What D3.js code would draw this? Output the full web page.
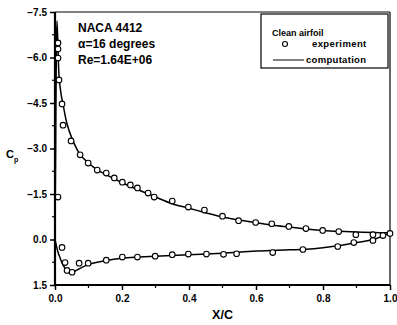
<!DOCTYPE html>
<html>
<head>
<meta charset="utf-8">
<script src="https://cdn.jsdelivr.net/npm/d3@7"></script>
<style>
    body { margin: 0; background: #fff; }
    svg text { font-family: "Liberation Sans", Arial, sans-serif; font-weight: bold; fill: #000; }
</style>
</head>
<body>
<div id="chart"></div>
<script>
(function() {
    'use strict';

    // experiment, upper surface
    var expUpperX = [0.009, 0.009, 0.009, 0.012, 0.021, 0.024, 0.048, 0.075, 0.099, 0.126, 0.153, 0.177, 0.201, 0.225, 0.246, 0.278, 0.296, 0.350, 0.398, 0.446, 0.500, 0.548, 0.599, 0.647, 0.698, 0.749, 0.799, 0.847, 0.898, 0.949, 0.979, 1.0];
    var expUpperCp = [-6.48, -6.28, -5.98, -5.26, -4.47, -3.77, -3.25, -2.79, -2.52, -2.29, -2.19, -2.03, -1.89, -1.80, -1.70, -1.53, -1.40, -1.27, -1.07, -0.97, -0.77, -0.62, -0.56, -0.52, -0.43, -0.36, -0.30, -0.26, -0.16, -0.16, -0.13, -0.20];

    // experiment, lower surface (+ one point near the leading edge)
    var expLowerX = [0.009, 0.021, 0.030, 0.036, 0.051, 0.072, 0.099, 0.153, 0.201, 0.246, 0.299, 0.350, 0.398, 0.452, 0.503, 0.542, 0.650, 0.740, 0.844, 0.892, 0.949];
    var expLowerCp = [-1.40, 0.26, 0.76, 1.02, 1.08, 0.78, 0.78, 0.68, 0.58, 0.58, 0.55, 0.50, 0.48, 0.48, 0.49, 0.47, 0.43, 0.33, 0.23, 0.10, 0.03];

    // computation
    var compUpperX = [0, 0.002, 0.004, 0.006, 0.009, 0.012, 0.018, 0.025, 0.035, 0.05, 0.075, 0.1, 0.125, 0.15, 0.2, 0.25, 0.3, 0.35, 0.4, 0.45, 0.5, 0.55, 0.6, 0.65, 0.7, 0.75, 0.8, 0.85, 0.9, 0.95, 1.0];
    var compUpperCp = [0, -3.0, -6.2, -7.2, -6.3, -5.4, -4.8, -4.4, -3.85, -3.35, -2.8, -2.52, -2.3, -2.15, -1.87, -1.63, -1.4, -1.18, -1.03, -0.88, -0.74, -0.64, -0.55, -0.47, -0.41, -0.35, -0.30, -0.27, -0.25, -0.23, -0.22];
    var compLowerX = [0, 0.005, 0.01, 0.015, 0.02, 0.03, 0.04, 0.05, 0.06, 0.075, 0.1, 0.15, 0.2, 0.25, 0.3, 0.4, 0.5, 0.6, 0.7, 0.75, 0.8, 0.85, 0.9, 0.95, 1.0];
    var compLowerCp = [0, 0.25, 0.45, 0.6, 0.75, 0.95, 1.05, 1.08, 1.04, 0.95, 0.82, 0.7, 0.62, 0.58, 0.55, 0.5, 0.45, 0.38, 0.34, 0.32, 0.27, 0.2, 0.1, 0.0, -0.22];

    var xTicks = [0, 0.2, 0.4, 0.6, 0.8, 1.0];
    var yTicks = [-7.5, -6.0, -4.5, -3.0, -1.5, 0.0, 1.5];
    var infoLines = ["NACA 4412", "\u03b1=16 degrees", "Re=1.64E+06"];

    var width = 397, height = 325;
    var left = 55, right = 390, top = 12, bottom = 285;

    var svg = d3.select("#chart").append("svg")
        .attr("width", width)
        .attr("height", height);

    var x = d3.scaleLinear().domain([0, 1]).range([left, right]);
    var y = d3.scaleLinear().domain([-7.5, 1.5]).range([top, bottom]);

    // frame
    svg.append("line").attr("x1", left).attr("x2", right).attr("y1", top).attr("y2", top)
        .attr("stroke", "#000").attr("stroke-width", 1.2);
    svg.append("line").attr("x1", right).attr("x2", right).attr("y1", top).attr("y2", bottom)
        .attr("stroke", "#000").attr("stroke-width", 1.2);

    // axes
    var yAxis = d3.axisLeft(y).tickValues(yTicks).tickSize(5).tickPadding(3)
        .tickFormat(d3.format(".1f"));
    var gy = svg.append("g").attr("transform", "translate(" + left + ",0)").call(yAxis);
    var xAxis = d3.axisBottom(x).tickValues(xTicks).tickSize(5).tickPadding(5)
        .tickFormat(d3.format(".1f"));
    var gx = svg.append("g").attr("transform", "translate(0," + bottom + ")").call(xAxis);

    [gx, gy].forEach(function(g) {
        g.select(".domain").attr("stroke-width", 2.2);
        g.selectAll(".tick line").attr("stroke-width", 1.5);
        g.selectAll("text").style("font-size", "10px").style("font-family", "Liberation Sans, Arial, sans-serif").style("font-weight", "bold");
    });
    gy.select(".domain").attr("d", "M0," + top + "V" + bottom);
    gx.select(".domain").attr("d", "M" + left + ",0H" + right);

    // minor ticks
    svg.selectAll(".yminor").data(d3.range(-6.75, 1.5, 1.5)).enter().append("line")
        .attr("x1", left - 3).attr("x2", left)
        .attr("y1", function(d) { return y(d); }).attr("y2", function(d) { return y(d); })
        .attr("stroke", "#000").attr("stroke-width", 1.2);
    svg.selectAll(".xminor").data(d3.range(0.1, 1.0, 0.2)).enter().append("line")
        .attr("x1", function(d) { return x(d); }).attr("x2", function(d) { return x(d); })
        .attr("y1", bottom).attr("y2", bottom + 3)
        .attr("stroke", "#000").attr("stroke-width", 1.2);

    // computation lines
    var line = d3.line()
        .x(function(d) { return x(d[0]); })
        .y(function(d) { return y(d[1]); })
        .curve(d3.curveMonotoneX);
    var upper = compUpperX.map(function(v, i) { return [v, compUpperCp[i]]; });
    var lower = compLowerX.map(function(v, i) { return [v, compLowerCp[i]]; });
    svg.append("path").attr("d", d3.line().x(function(d) { return x(d[0]); }).y(function(d) { return y(d[1]); }).curve(d3.curveCatmullRom)(upper))
        .attr("fill", "none").attr("stroke", "#000").attr("stroke-width", 1.5);
    svg.append("path").attr("d", line(lower))
        .attr("fill", "none").attr("stroke", "#000").attr("stroke-width", 1.5);

    // experiment points
    var pts = expUpperX.map(function(v, i) { return [v, expUpperCp[i]]; })
        .concat(expLowerX.map(function(v, i) { return [v, expLowerCp[i]]; }));
    svg.selectAll(".pt").data(pts).enter().append("circle")
        .attr("cx", function(d) { return x(d[0]); })
        .attr("cy", function(d) { return y(d[1]); })
        .attr("r", 2.8)
        .attr("fill", "#fff").attr("stroke", "#000").attr("stroke-width", 1.1);

    // axis titles
    svg.append("text").attr("x", (left + right) / 2).attr("y", 319)
        .attr("text-anchor", "middle").style("font-size", "12.5px").text("X/C");
    var cp = svg.append("text").attr("x", 6).attr("y", 158).style("font-size", "11px");
    cp.append("tspan").text("C");
    cp.append("tspan").attr("dy", 4).style("font-size", "7px").text("p");

    // info text
    svg.selectAll(".info").data(infoLines).enter().append("text")
        .attr("x", 78)
        .attr("y", function(d, i) { return 32 + i * 16; })
        .style("font-size", "12px")
        .text(function(d) { return d; });

    // legend
    var lg = svg.append("g");
    lg.append("rect").attr("x", 261).attr("y", 14).attr("width", 127).attr("height", 54)
        .attr("fill", "#fff").attr("stroke", "#000").attr("stroke-width", 1.2);
    lg.append("text").attr("x", 272).attr("y", 36).style("font-size", "9px").text("Clean airfoil");
    lg.append("circle").attr("cx", 285).attr("cy", 44).attr("r", 2.5)
        .attr("fill", "#fff").attr("stroke", "#000").attr("stroke-width", 1.1);
    lg.append("text").attr("x", 312).attr("y", 47).style("font-size", "9.5px")
        .style("letter-spacing", "0.4px").text("experiment");
    lg.append("line").attr("x1", 273).attr("x2", 304).attr("y1", 60).attr("y2", 60)
        .attr("stroke", "#000").attr("stroke-width", 1);
    lg.append("text").attr("x", 306).attr("y", 63).style("font-size", "9.5px")
        .style("letter-spacing", "0.3px").text("computation");
})();
</script>
</body>
</html>
